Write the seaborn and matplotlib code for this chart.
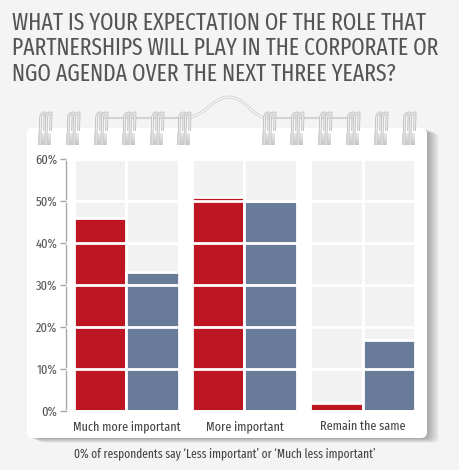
import os
import pandas as pd
import seaborn as sns
import matplotlib.pyplot as plt
from matplotlib import font_manager as fm
from matplotlib.textpath import TextToPath
from matplotlib.patches import FancyBboxPatch, PathPatch
from matplotlib.path import Path

categories = ["Much more important", "More important", "Remain the same"]
groups = ["Corporate", "NGO"]
corporate = [46, 51, 2]
ngo = [33, 50, 17]
y_ticks = [0, 10, 20, 30, 40, 50, 60]
title_lines = ["WHAT IS YOUR EXPECTATION OF THE ROLE THAT",
               "PARTNERSHIPS WILL PLAY IN THE CORPORATE OR",
               "NGO AGENDA OVER THE NEXT THREE YEARS?"]
footnote = "0% of respondents say \u2018Less important\u2019 or \u2018Much less important\u2019"

RED = "#be1522"
BLUE = "#687b99"
PANEL = "#f2f2f2"
BG = "#f4f4f4"

df = pd.DataFrame({
    "answer": categories * 2,
    "group": [groups[0]] * 3 + [groups[1]] * 3,
    "share": corporate + ngo,
})
bg = df.assign(share=max(y_ticks))

sns.set_style("white")
plt.rcParams["font.family"] = ["DejaVu Sans"]
plt.rcParams["font.stretch"] = "condensed"


def pick_font(target=25.0):
    # look for a condensed sans whose width/cap-height ratio is close to the reference
    t2p = TextToPath()
    best, best_d = None, None
    for f in fm.fontManager.ttflist:
        base = os.path.basename(f.fname).lower()
        if f.stretch != "condensed" or f.style != "normal" or f.weight != 400:
            continue
        if any(k in base for k in ("mono", "serif", "cjk")) or "sans" not in base:
            continue
        fp = fm.FontProperties(fname=f.fname, size=20)
        try:
            w = t2p.get_text_width_height_descent(title_lines[0], fp, ismath=False)[0]
            h = t2p.get_text_width_height_descent("H", fp, ismath=False)[1]
        except Exception:
            continue
        d = abs(w / h - target)
        if best_d is None or d < best_d:
            best, best_d = f.fname, d
    if best is None:
        return fm.FontProperties(family="DejaVu Sans", stretch="condensed")
    return fm.FontProperties(fname=best)


FP = pick_font()


def fprop(size):
    p = FP.copy()
    p.set_size(size)
    return p


W, H = 460, 470
fig = plt.figure(figsize=(W / 100, H / 100), dpi=100)
fig.patch.set_facecolor(BG)

# decoration layer in pixel coords
deco = fig.add_axes([0, 0, 1, 1], zorder=0)
deco.set_xlim(0, W)
deco.set_ylim(H, 0)
deco.axis("off")

# notepad shadow + paper
for i in range(1, 13):
    deco.add_patch(FancyBboxPatch((27 + i, 128 + i * 0.4), 400, 310,
                                  boxstyle="round,pad=0,rounding_size=6",
                                  fc="black", ec="none", alpha=0.028))
deco.add_patch(FancyBboxPatch((27, 128), 400, 310,
                              boxstyle="round,pad=0,rounding_size=6",
                              fc="white", ec="none"))

# hook wire
hook = Path([(183, 118), (205, 118), (212, 97), (229, 97),
             (246, 97), (252, 118), (268, 118)],
            [Path.MOVETO, Path.CURVE4, Path.CURVE4, Path.CURVE4,
             Path.CURVE4, Path.CURVE4, Path.CURVE4])
deco.add_patch(PathPatch(hook, fc="none", ec="#cccccc", lw=2.0))
deco.add_patch(PathPatch(hook, fc="none", ec="#fbfbfb", lw=0.9))

rings = [44, 72, 100, 128, 156, 183, 268, 296, 324, 352, 380, 408]
for a, b in [(100, 183), (268, 352)]:
    deco.plot([a, b], [118, 118], color="#d2d2d2", lw=1.5, zorder=2)
for cx in rings:
    for k in range(6):
        deco.add_patch(plt.Rectangle((cx - 6, 133 + k * 2), 13, 2,
                                     fc="#b8b8b8", ec="none", zorder=2, alpha=0.35 + 0.08 * k))
    for dx in (-4, 2):
        x0 = cx + dx
        loop = Path([(x0, 145), (x0 + 0.5, 118), (x0 + 1, 112.5), (x0 + 5, 113), (x0 + 5, 118), (x0 + 4.5, 131)],
                    [Path.MOVETO, Path.LINETO, Path.CURVE3, Path.CURVE3, Path.LINETO, Path.LINETO])
        deco.add_patch(PathPatch(loop, fc="none", ec="#c2c2c2", lw=2.0, zorder=3))
        deco.add_patch(PathPatch(loop, fc="none", ec="#f2f2f2", lw=0.7, zorder=3))

# main chart
y0_px, y60_px = 411, 159
x_axis_px, x_right_px = 65.7, 427
c0_px, step_px = 126.5, 118
ax = fig.add_axes([x_axis_px / W, (H - y0_px) / H,
                   (x_right_px - x_axis_px) / W, (y0_px - y60_px) / H], zorder=1)
ax.patch.set_alpha(0)

sns.barplot(data=bg, x="answer", y="share", hue="group", palette=[PANEL, PANEL],
            width=0.89, saturation=1, edgecolor="white", linewidth=2, legend=False, ax=ax)
sns.barplot(data=df, x="answer", y="share", hue="group", palette=[RED, BLUE],
            width=0.89, saturation=1, edgecolor="white", linewidth=2, legend=False, ax=ax)

ax.set_xlim((x_axis_px - c0_px) / step_px, (x_right_px - c0_px) / step_px)
ax.set_ylim(0, max(y_ticks))
ax.set_yticks(y_ticks)
ax.set_yticklabels([f"{v}%" for v in y_ticks])
ax.grid(axis="y", color="white", lw=2)
ax.set_axisbelow(False)
ax.set_xlabel("")
ax.set_ylabel("")
for s in ["top", "right", "bottom"]:
    ax.spines[s].set_visible(False)
ax.spines["left"].set_color("#a8a8a8")
ax.spines["left"].set_linewidth(1)
ax.tick_params(axis="y", left=True, length=4, width=1, color="#a8a8a8",
               labelcolor="#555555", pad=2)
ax.tick_params(axis="x", bottom=False, labelcolor="#444444", pad=3)

# texts, each fitted to the width it has in the reference
txts = [fig.text(12 / W, 1 - yb / H, line, color="#555555", fontproperties=fprop(16),
                 va="baseline", ha="left")
        for line, yb in zip(title_lines, [29.5, 55.2, 81])]
note = fig.text(74 / W, 1 - 457 / H, footnote, color="#444444", fontproperties=fprop(10),
                va="baseline", ha="left")
for lab in ax.get_xticklabels() + ax.get_yticklabels():
    lab.set_fontproperties(fprop(10))
fig.canvas.draw()
r = fig.canvas.get_renderer()
w0 = txts[0].get_window_extent(r).width
for t in txts:
    t.set_fontsize(16 * 418 / w0)
note.set_fontsize(10 * 304 / note.get_window_extent(r).width)
xs = 10 * 108 / ax.get_xticklabels()[0].get_window_extent(r).width
ys = 10 * 22 / ax.get_yticklabels()[-1].get_window_extent(r).width
for lab in ax.get_xticklabels():
    lab.set_fontsize(xs)
for lab in ax.get_yticklabels():
    lab.set_fontsize(ys)

fig.savefig("out.png", dpi=100, facecolor=BG)
